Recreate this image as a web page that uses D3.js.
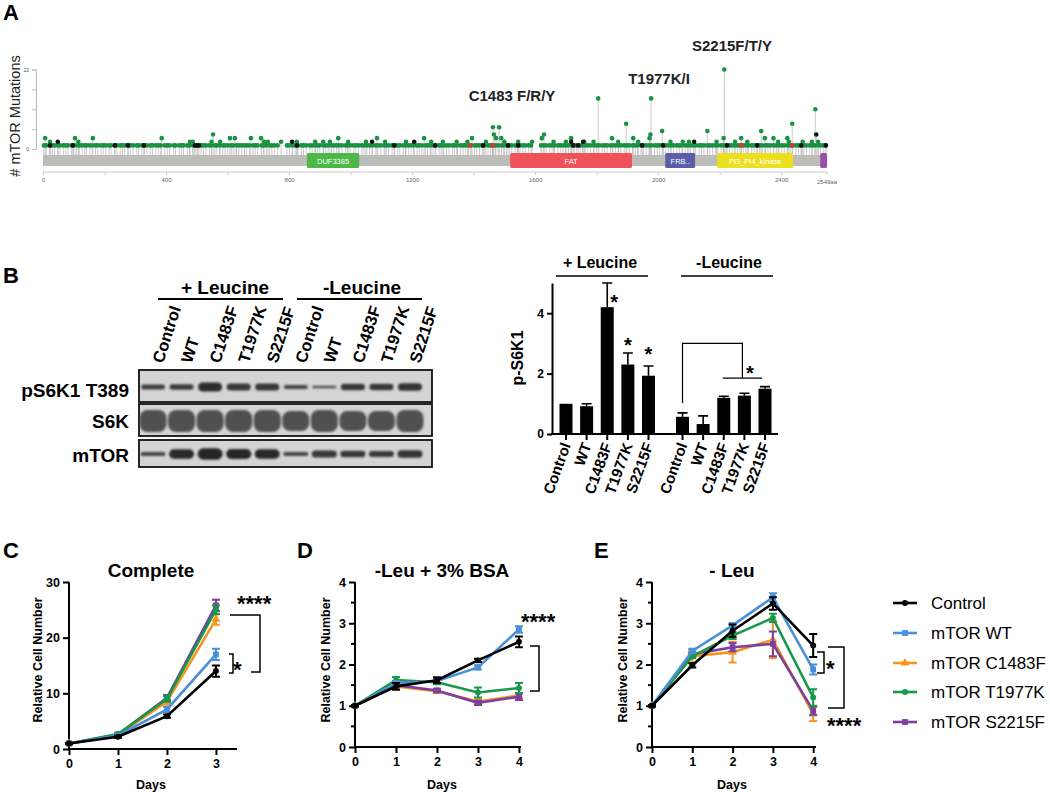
<!DOCTYPE html>
<html><head><meta charset="utf-8">
<script src="https://cdn.jsdelivr.net/npm/d3@7"></script>
<style>body{margin:0;background:#fff} svg text{font-family:"Liberation Sans",Arial,Helvetica,sans-serif}</style>
</head><body><svg id="fig" width="1050" height="792"></svg>
<script>
// ---------------- DATA ----------------
// Panel A: lollipop plot of mTOR mutations
const proteinLength = 2549;
const axisTicksA = [0,200,400,600,800,1000,1200,1400,1600,1800,2000,2200,2400];
const domainNames = ["DUF3385","FAT","FRB..","PI3_PI4_kinase",""];
const domainStart = [858,1519,2023,2192,2527];
const domainEnd = [1028,1915,2120,2439,2549];
const domainColors = ["#4cb848","#ef5258","#5a5ea9","#ece01e","#9b4ea5"];
const missenseSingle = [3,11,22,30,38,49,55,66,74,81,93,99,110,118,127,136,141,152,160,171,178,189,196,204,215,221,232,240,251,258,266,277,284,293,305,311,322,330,338,349,356,367,375,383,396,
404,412,425,431,443,450,457,469,476,488,494,503,514,521,530,541,548,559,565,574,585,592,601,612,618,629,637,646,655,662,671,683,690,698,711,717,726,737,744,752,763,
793,801,812,820,829,840,847,856,868,875,884,893,900,912,919,927,938,946,955,963,972,984,990,999,1010,1017,1026,1037,1044,1053,1062,1071,1082,1089,1098,1109,1116,1124,1135,1143,1152,1160,1171,1179,1188,1197,1205,1216,1223,1232,1243,1250,1259,1268,1277,1288,1294,1303,1312,1320,1331,1338,1347,1358,1366,1374,1383,1392,1403,1410,1419,1428,1436,1447,1455,1462,1471,1480,1491,1498,1507,1516,1524,1535,1542,1551,1560,1568,1579,1587,
1619,1628,1636,1647,1655,1663,1674,1682,1691,1700,1708,1719,1727,1735,1746,1754,1763,1771,1780,1791,1799,1807,1818,1826,1834,1845,1853,1862,1871,1879,1890,1898,1906,1917,1925,1933,1944,1952,1961,1970,1978,1989,1997,2005,2016,2024,2033,2042,2050,2061,2069,2077,2088,2096,2105,2114,2122,2133,2141,2149,2160,2168,2177,2186,2194,2205,2213,2221,2232,2240,2249,2258,2266,2277,2285,2293,2304,2312,2321,2330,2338,2349,2357,2365,2376,2384,2393,2402,2410,2421,2429,2437,2448,2456,2465,2474,2482,2493,2501,2509,2520,2528,2537,2545];
const missenseMulti = [[7,3],[23,2],[104,3],[115,2],[162,3],[386,3],[478,2],[487,2],[553,4],[548,2],[576,2],[608,3],[624,3],[676,3],[709,3],[719,2],[731,2],[774,2],[825,2],[885,2],[911,2],[933,2],[960,3],[992,2],[1050,2],[1086,3],[1112,2],[1180,2],[1239,3],[1262,2],[1300,2],[1345,2],[1395,3],[1380,2],[1440,2],[1463,6],[1466,4],[1473,3],[1483,6],[1490,3],[1500,2],[1545,2],[1590,2],[1622,3],[1629,4],[1660,2],[1700,2],[1717,3],[1760,2],[1805,14],[1790,2],[1850,3],[1870,2],[1896,7],[1919,3],[1935,2],[1972,3],[1975,4],[1977,14],[2013,5],[2040,2],[2080,2],[2100,2],[2160,5],[2190,2],[2213,3],[2215,22],[2250,2],[2270,3],[2290,2],[2335,5],[2347,3],[2375,3],[2390,2],[2420,3],[2425,2],[2436,7],[2470,2],[2500,2],[2511,11],[2520,2]];
const truncating = [[23,1],[48,2],[97,1],[234,1],[276,1],[328,1],[494,1],[501,1],[507,1],[810,2],[826,1],[1070,2],[1142,1],[1207,2],[1275,1],[1431,1],[1512,1],[1545,1],[1717,2],[1724,1],[1740,1],[1756,2],[1948,1],[2016,1],[2117,2],[2224,1],[2322,1],[2465,1],[2514,4],[2545,1]];
const inframe = [[1389,1],[1463,1],[2270,1],[2436,1]];
const hotspotLabels = ["C1483 F/R/Y","T1977K/I","S2215F/T/Y"];

// Panel B: western blot + quantification
const laneNames = ["Control","WT","C1483F","T1977K","S2215F","Control","WT","C1483F","T1977K","S2215F"];
const groupNames = ["+ Leucine","-Leucine"];
const blotRowNames = ["pS6K1 T389","S6K","mTOR"];
const bandPS6K = [5,5.5,9,7,7,4,2.5,6.5,6.5,7.5];
const bandS6K = [22,22,22,22,22,20,22,20,20,22];
const bandMTOR = [4,9.5,11.5,10,9.5,4,7,6.5,6,7.5];
const barValues = [1.0,0.92,4.2,2.3,1.93,0.57,0.33,1.2,1.27,1.5];
const barErrors = [0,0.08,0.8,0.38,0.32,0.13,0.27,0.05,0.08,0.07];

// Panels C, D, E: growth curves
const seriesNames = ["Control","mTOR WT","mTOR C1483F","mTOR T1977K","mTOR S2215F"];
const seriesColors = ["#000000","#4a90d9","#f7941d","#17984a","#7b3f9e"];
const seriesSymbols = ["circle","square","triangle","circle","square"];
const daysC = [0,1,2,3];
const daysDE = [0,1,2,3,4];
const completeMean = [[1,2.2,5.9,14],[1,2.4,7.1,17],[1,2.5,8.5,23.3],[1,2.7,9,25],[1,2.6,9.2,25.8]];
const completeErr  = [[0.1,0.2,0.3,1.0],[0.1,0.2,0.5,1.0],[0.1,0.2,0.5,1.0],[0.1,0.2,0.5,0.8],[0.1,0.2,0.5,1.0]];
const bsaMean = [[1,1.47,1.62,2.1,2.55],[1,1.55,1.6,1.93,2.85],[1,1.47,1.35,1.1,1.25],[1,1.62,1.57,1.32,1.43],[1,1.5,1.37,1.07,1.22]];
const bsaErr  = [[0.02,0.08,0.07,0.04,0.13],[0.02,0.05,0.05,0.05,0.08],[0.02,0.05,0.04,0.05,0.06],[0.02,0.08,0.05,0.12,0.12],[0.02,0.05,0.04,0.05,0.08]];
const leuMean = [[1,1.98,2.82,3.48,2.46],[1,2.33,2.95,3.63,1.88],[1,2.2,2.3,2.6,0.8],[1,2.2,2.7,3.13,1.2],[1,2.25,2.42,2.5,0.88]];
const leuErr  = [[0.02,0.05,0.15,0.15,0.28],[0.02,0.05,0.05,0.1,0.12],[0.02,0.15,0.25,0.45,0.17],[0.02,0.05,0.08,0.1,0.2],[0.02,0.05,0.1,0.3,0.1]];

// ---------------- DRAWING ----------------
const svg = d3.select("#fig");
svg.append("rect").attr("width",1050).attr("height",792).attr("fill","#fff");
const defs = svg.append("defs");
defs.append("filter").attr("id","blur").attr("x","-30%").attr("y","-60%").attr("width","160%").attr("height","220%")
  .append("feGaussianBlur").attr("stdDeviation",1.1);
const fmt = d3.format("~g");

function label(x,y,s,size,opts={}) {
  const t = svg.append("text").attr("x",x).attr("y",y).text(s)
    .attr("font-size",size).attr("font-weight",opts.weight||"bold")
    .attr("text-anchor",opts.anchor||"start").attr("fill",opts.fill||"#000");
  if (opts.rotate!==undefined) t.attr("transform",`rotate(${opts.rotate},${x},${y})`);
  return t;
}

// Panel letters
label(3,20,"A",22); label(3,283,"B",22); label(3,558,"C",22); label(297,558,"D",22); label(594,558,"E",22);

// ===== Panel A =====
const xA = d3.scaleLinear().domain([0,proteinLength]).range([43,827]);
const yA = d3.scaleLinear().domain([0,22]).range([149,69.5]);
const gA = svg.append("g");
const yAxA = gA.append("g").attr("transform","translate(36,0)")
  .call(d3.axisLeft(yA).tickValues([0,5.5,11,16.5,22]).tickSize(4).tickPadding(3).tickFormat(d=> (d===0||d===22)? d : ""));
yAxA.selectAll("path,line").attr("stroke","#bbb");
yAxA.selectAll("text").attr("font-size",5).attr("fill","#555").attr("font-family","Liberation Sans, Arial");
label(20,116,"# mTOR Mutations",14.5,{weight:"normal",anchor:"middle",rotate:-90,fill:"#222"});

const xAxA = gA.append("g").attr("transform","translate(0,172)")
  .call(d3.axisBottom(xA).tickValues(axisTicksA).tickSize(3).tickPadding(3).tickSizeOuter(0).tickFormat(d=> d%400===0? d : ""));
xAxA.select(".domain").attr("d",`M${xA(0)},0H${xA(proteinLength)}`);
xAxA.selectAll("path,line").attr("stroke","#ccc");
xAxA.selectAll("text").attr("font-size",6).attr("fill","#666").attr("font-family","Liberation Sans, Arial");
gA.append("line").attr("x1",xA(proteinLength)).attr("x2",xA(proteinLength)).attr("y1",172).attr("y2",175).attr("stroke","#ccc");
gA.append("text").attr("x",xA(proteinLength)).attr("y",184).attr("text-anchor","middle").attr("font-size",6).attr("fill","#666").text(proteinLength+"aa");

// stems
const allMut = missenseSingle.map(p=>[p,1,"m"]).concat(missenseMulti.map(d=>[d[0],d[1],"m"]), truncating.map(d=>[d[0],d[1],"t"]), inframe.map(d=>[d[0],d[1],"i"]));
gA.append("g").selectAll("line").data(allMut).join("line")
  .attr("x1",d=>xA(d[0])).attr("x2",d=>xA(d[0])).attr("y1",156).attr("y2",d=>yA(d[1]))
  .attr("stroke","#bdbdbd").attr("stroke-width",0.8);
// protein backbone
gA.append("rect").attr("x",xA(0)).attr("y",155).attr("width",xA(proteinLength)-xA(0)).attr("height",11).attr("fill","#bcbcb8");
// domains
const dom = gA.append("g").selectAll("g").data(domainNames).join("g");
dom.append("rect").attr("x",(d,i)=>xA(domainStart[i])).attr("y",153).attr("width",(d,i)=>xA(domainEnd[i])-xA(domainStart[i]))
  .attr("height",15).attr("rx",1.5).attr("fill",(d,i)=>domainColors[i]);
dom.append("text").attr("x",(d,i)=>(xA(domainStart[i])+xA(domainEnd[i]))/2).attr("y",163.5).attr("text-anchor","middle")
  .attr("font-size",7.5).attr("fill","#fff").text(d=>d);
// dots
const colorType = {m:"#1a9143",t:"#111",i:"#d23a2a"};
gA.append("g").selectAll("circle").data(allMut).join("circle")
  .attr("cx",d=>xA(d[0])).attr("cy",d=>yA(d[1])).attr("r",2.3).attr("fill",d=>colorType[d[2]]);
// hotspot labels
label(512,101,hotspotLabels[0],15,{anchor:"middle",fill:"#222"});
label(659,84,hotspotLabels[1],15,{anchor:"middle",fill:"#222"});
label(732,51,hotspotLabels[2],15,{anchor:"middle",fill:"#222"});

// ===== Panel B: blot =====
const laneX = d3.scaleLinear().domain([0,9]).range([153,410]);
const rowTop = [370,404,440], rowBot = [402,436,467], rowBand = [387,421,454], rowLabelY = [397,428,462];
const bandData = [bandPS6K,bandS6K,bandMTOR], bandW = [24,27,25];
const gBl = svg.append("g");
blotRowNames.forEach((nm,r)=>{
  gBl.append("rect").attr("x",139).attr("y",rowTop[r]).attr("width",293).attr("height",rowBot[r]-rowTop[r])
    .attr("fill","#d4d4d4").attr("stroke","#111").attr("stroke-width",1.8);
  gBl.append("g").attr("filter","url(#blur)").selectAll("rect").data(bandData[r]).join("rect")
    .attr("x",(d,i)=>laneX(i)-bandW[r]/2).attr("y",d=>rowBand[r]-d/2).attr("width",bandW[r]).attr("height",d=>d)
    .attr("rx",d=>Math.min(d/2,8)).attr("fill",r===1?"#3a3a3a":"#262626").attr("opacity",d=>r===1?0.85:0.7+0.03*d);
  label(129,rowLabelY[r],nm,19,{anchor:"end"});
});
laneNames.forEach((nm,i)=> label(laneX(i)+10,364,nm,16.5,{rotate:-72}));
label(225,294,groupNames[0],19,{anchor:"middle"});
label(362,294,groupNames[1],19,{anchor:"middle"});
gBl.append("line").attr("x1",158).attr("x2",283).attr("y1",299).attr("y2",299).attr("stroke","#000").attr("stroke-width",2);
gBl.append("line").attr("x1",297).attr("x2",422).attr("y1",299).attr("y2",299).attr("stroke","#000").attr("stroke-width",2);

// ===== Panel B: bar chart =====
const barPos = barValues.map((v,i)=> i + (i>=5?0.65:0));
const xB = d3.scaleLinear().domain([0,9.65]).range([566,765]);
const yB = d3.scaleLinear().domain([0,5]).range([434,283]);
const gB = svg.append("g");
gB.selectAll("rect").data(barValues).join("rect")
  .attr("x",(d,i)=>xB(barPos[i])-6.5).attr("y",d=>yB(d)).attr("width",13).attr("height",d=>yB(0)-yB(d)).attr("fill","#000");
gB.append("g").selectAll("path").data(barValues.map((v,i)=>i).filter(i=>barErrors[i]>0)).join("path")
  .attr("d",i=>{const x=xB(barPos[i]); const yt=yB(barValues[i]+barErrors[i]); return `M${x},${yB(barValues[i])}V${yt}M${x-5},${yt}H${x+5}`;})
  .attr("stroke","#000").attr("stroke-width",1.6).attr("fill","none");
const yAxB = gB.append("g").attr("transform","translate(552,0)")
  .call(d3.axisLeft(yB).tickValues([0,2,4]).tickSize(5).tickPadding(3).tickSizeOuter(0).tickFormat(fmt));
yAxB.selectAll("path,line").attr("stroke","#000").attr("stroke-width",2);
yAxB.selectAll("text").attr("font-size",12).attr("font-weight","bold");
const xAxB = gB.append("g").attr("transform","translate(0,434)");
xAxB.append("line").attr("x1",551).attr("x2",778).attr("stroke","#000").attr("stroke-width",2);
xAxB.selectAll(".tk").data(barPos).join("line").attr("class","tk").attr("x1",d=>xB(d)).attr("x2",d=>xB(d)).attr("y1",0).attr("y2",6).attr("stroke","#000").attr("stroke-width",2);
laneNames.forEach((nm,i)=> label(xB(barPos[i])+5,445,nm,15,{anchor:"end",rotate:-70}));
label(523,358,"p-S6K1",16,{anchor:"middle",rotate:-90});
label(600,268,groupNames[0],16,{anchor:"middle"});
label(729,268,groupNames[1],16,{anchor:"middle"});
gB.append("line").attr("x1",556).attr("x2",648).attr("y1",276).attr("y2",276).attr("stroke","#000").attr("stroke-width",1.5);
gB.append("line").attr("x1",681).attr("x2",773).attr("y1",276).attr("y2",276).attr("stroke","#000").attr("stroke-width",1.5);
// significance
label(xB(barPos[2])+7,yB(barValues[2]+barErrors[2])+26,"*",20,{anchor:"middle"});
label(xB(barPos[3]),yB(barValues[3]+barErrors[3])-1,"*",20,{anchor:"middle"});
label(xB(barPos[4]),yB(barValues[4]+barErrors[4])-5,"*",20,{anchor:"middle"});
gB.append("path").attr("d",`M${xB(barPos[5])},${yB(1.03)}V${yB(3)}H${xB(barPos[8])-2}V${yB(1.85)}M${xB(barPos[7])-1},${yB(1.85)}H${xB(barPos[9])-3}`)
  .attr("fill","none").attr("stroke","#000").attr("stroke-width",1.2);
label(750,380,"*",20,{anchor:"middle"});

// ===== Panels C, D, E =====
function symbolPath(type,size){
  const t = type==="square"? d3.symbolSquare : type==="triangle"? d3.symbolTriangle : d3.symbolCircle;
  return d3.symbol(t, size)();
}
function growthPanel(cfg){
  const g = svg.append("g");
  const x = d3.scaleLinear().domain([0,cfg.xMax]).range([cfg.x0,cfg.x1]);
  const y = d3.scaleLinear().domain([0,cfg.yMax]).range([cfg.y0,cfg.y1]);
  const ya = g.append("g").attr("transform",`translate(${cfg.x0},0)`)
    .call(d3.axisLeft(y).tickValues(cfg.yTicks).tickSize(6).tickPadding(3).tickSizeOuter(0).tickFormat(fmt));
  ya.select(".domain").attr("d",`M0,${cfg.y0+1}V${cfg.y1}`);
  ya.selectAll("path,line").attr("stroke","#000").attr("stroke-width",2);
  ya.selectAll("text").attr("font-size",12.5).attr("font-weight","bold");
  if (cfg.yMinor) g.append("g").selectAll("line").data(cfg.yMinor).join("line")
    .attr("x1",cfg.x0-4).attr("x2",cfg.x0).attr("y1",d=>y(d)).attr("y2",d=>y(d)).attr("stroke","#000").attr("stroke-width",2);
  const xa = g.append("g").attr("transform",`translate(0,${cfg.y0})`)
    .call(d3.axisBottom(x).tickValues(cfg.days).tickSize(6).tickPadding(4).tickSizeOuter(0).tickFormat(fmt));
  xa.select(".domain").attr("d",`M${cfg.x0-1},0H${cfg.x1}`);
  xa.selectAll("path,line").attr("stroke","#000").attr("stroke-width",2);
  xa.selectAll("text").attr("font-size",12.5).attr("font-weight","bold");
  label(cfg.yLabX,660,"Relative Cell Number",12.5,{anchor:"middle",rotate:-90});
  label(cfg.titleX,789,"Days",12.5,{anchor:"middle"});
  label(cfg.titleX,577,cfg.title,19,{anchor:"middle"});
  cfg.order.forEach(s=>{
    const pts = cfg.days.map((d,i)=>[d,cfg.mean[s][i],cfg.err[s][i]]);
    const col = seriesColors[s];
    const sg = g.append("g");
    sg.selectAll("path.eb").data(pts).join("path").attr("class","eb")
      .attr("d",p=>{const xx=x(p[0]), yt=y(p[1]+p[2]), yb=y(p[1]-p[2]); return `M${xx},${yt}V${yb}M${xx-4},${yt}H${xx+4}M${xx-4},${yb}H${xx+4}`;})
      .attr("stroke",col).attr("stroke-width",2).attr("fill","none");
    sg.append("path").datum(pts).attr("d",d3.line().x(p=>x(p[0])).y(p=>y(p[1])))
      .attr("stroke",col).attr("stroke-width",2.6).attr("fill","none");
    sg.selectAll("path.mk").data(pts).join("path").attr("class","mk")
      .attr("transform",p=>`translate(${x(p[0])},${y(p[1])})`).attr("d",symbolPath(seriesSymbols[s],seriesSymbols[s]==="circle"?28:34)).attr("fill",col);
  });
  return {g,x,y};
}
const order = [2,4,3,1,0];
growthPanel({x0:69,x1:237,xMax:3.43,y0:749,y1:582,yMax:30,yTicks:[0,10,20,30],days:daysC,mean:completeMean,err:completeErr,order,title:"Complete",titleX:151,yLabX:42});
growthPanel({x0:355,x1:521,xMax:4.05,y0:747,y1:582,yMax:4,yTicks:[0,1,2,3,4],yMinor:[0.5,1.5,2.5,3.5],days:daysDE,mean:bsaMean,err:bsaErr,order,title:"-Leu + 3% BSA",titleX:442,yLabX:330});
growthPanel({x0:652,x1:816,xMax:4.07,y0:747,y1:582,yMax:4,yTicks:[0,1,2,3,4],yMinor:[0.5,1.5,2.5,3.5],days:daysDE,mean:leuMean,err:leuErr,order,title:"- Leu",titleX:732,yLabX:627});

function bracket(d){ svg.append("path").attr("d",d).attr("fill","none").attr("stroke","#000").attr("stroke-width",1.5); }
bracket("M230,615H260V672H251"); bracket("M229,654H233V673H229");
label(237,611,"****",22); label(233,677,"*",22);
bracket("M530,646H539V691H530"); label(521,629,"****",22);
bracket("M817,652H824V673H817"); label(826,676,"*",22);
bracket("M828,647H844V708H828"); label(827,733,"****",22);

// Legend
const legY = [603,633,663,692,722];
const gL = svg.append("g");
seriesNames.forEach((nm,i)=>{
  gL.append("line").attr("x1",893).attr("x2",917).attr("y1",legY[i]).attr("y2",legY[i]).attr("stroke",seriesColors[i]).attr("stroke-width",2.6);
  gL.append("path").attr("transform",`translate(905,${legY[i]})`).attr("d",symbolPath(seriesSymbols[i],seriesSymbols[i]==="circle"?28:34)).attr("fill",seriesColors[i]);
  label(931,legY[i]+6,nm,17,{weight:"normal"});
});
</script></body></html>
